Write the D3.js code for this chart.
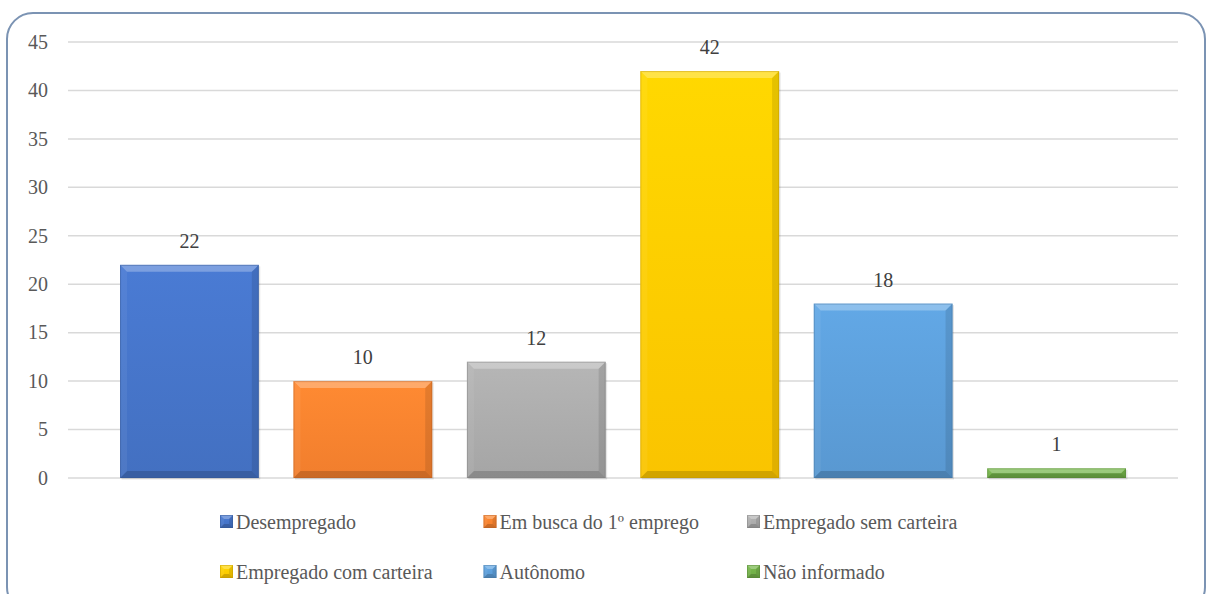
<!DOCTYPE html>
<html>
<head>
<meta charset="utf-8">
<script src="https://cdn.jsdelivr.net/npm/d3@7"></script>
<style>
  body { margin: 0; background: #fff; }
</style>
</head>
<body>
<div id="chart"></div>
<script>
// --- Data ---
var categories = ["Desempregado", "Em busca do 1º emprego", "Empregado sem carteira",
                  "Empregado com carteira", "Autônomo", "Não informado"];
var values = [22, 10, 12, 42, 18, 1];
var yTicks = [0, 5, 10, 15, 20, 25, 30, 35, 40, 45];
var colors = ["#4472C4", "#F5802E", "#A8A8A8", "#FFC800", "#5B9BD5", "#70AD47"];

var W = 1208, H = 594;
var svg = d3.select("#chart").append("svg").attr("width", W).attr("height", H);

// outer rounded border
svg.append("rect")
    .attr("x", 7).attr("y", 13)
    .attr("width", 1198).attr("height", 600)
    .attr("rx", 26).attr("ry", 26)
    .attr("fill", "#fff")
    .attr("stroke", "#7B93B3")
    .attr("stroke-width", 2);

var defs = svg.append("defs");
colors.forEach(function (c, i) {
    var g = defs.append("linearGradient").attr("id", "grad" + i)
        .attr("x1", 0).attr("y1", 0).attr("x2", 0).attr("y2", 1);
    g.append("stop").attr("offset", "0%").attr("stop-color", d3.color(c).brighter(0.22));
    g.append("stop").attr("offset", "100%").attr("stop-color", d3.color(c).darker(0.05));
});

// --- Scales ---
var x = d3.scaleBand()
    .domain(categories)
    .range([68, 1178])
    .paddingInner(0.2)
    .paddingOuter(0.3);

var y = d3.scaleLinear()
    .domain([0, 45])
    .range([478, 42]);

// gridlines
svg.append("g")
    .selectAll("line")
    .data(yTicks)
    .enter().append("line")
    .attr("x1", 68).attr("x2", 1178)
    .attr("y1", d => y(d)).attr("y2", d => y(d))
    .attr("stroke", "#D9D9D9")
    .attr("stroke-width", 1.5);

// y axis labels (plain text elements)
svg.append("g")
    .selectAll("text")
    .data(yTicks)
    .enter().append("text")
    .attr("x", 48)
    .attr("y", d => y(d))
    .attr("dy", "0.34em")
    .attr("text-anchor", "end")
    .attr("font-family", "Liberation Serif")
    .attr("font-size", 20)
    .attr("fill", "#595959")
    .text(d => d);

// bevelled bar helper
function bevelRect(g, x0, y0, w, h, i, b) {
    b = Math.min(b, h / 2, w / 2);
    g.append("rect")
        .attr("x", x0).attr("y", y0).attr("width", w).attr("height", h)
        .attr("fill", "url(#grad" + i + ")");
    var x1 = x0 + w, y1 = y0 + h;
    var faces = [
        { p: [[x0, y0], [x1, y0], [x1 - b, y0 + b], [x0 + b, y0 + b]], f: "#fff", o: 0.28 },
        { p: [[x0, y0], [x0 + b, y0 + b], [x0 + b, y1 - b], [x0, y1]], f: "#fff", o: 0.06 },
        { p: [[x1, y0], [x1, y1], [x1 - b, y1 - b], [x1 - b, y0 + b]], f: "#000", o: 0.1 },
        { p: [[x0, y1], [x0 + b, y1 - b], [x1 - b, y1 - b], [x1, y1]], f: "#000", o: 0.16 }
    ];
    faces.forEach(function (fc) {
        g.append("polygon")
            .attr("points", fc.p.map(p => p.join(",")).join(" "))
            .attr("fill", fc.f)
            .attr("fill-opacity", fc.o);
    });
    g.append("rect")
        .attr("x", x0 + 0.5).attr("y", y0 + 0.5).attr("width", w - 1).attr("height", h - 1)
        .attr("fill", "none")
        .attr("stroke", d3.color(colors[i]).darker(0.8))
        .attr("stroke-opacity", 0.45)
        .attr("stroke-width", 1);
}

// --- Bars ---
var bars = svg.append("g");
categories.forEach(function (c, i) {
    var g = bars.append("g");
    // soft shadow
    g.append("rect")
        .attr("x", x(c) + 1.5).attr("y", y(values[i]) + 1.5)
        .attr("width", x.bandwidth()).attr("height", y(0) - y(values[i]))
        .attr("fill", "#000").attr("fill-opacity", 0.1);
    bevelRect(g, x(c), y(values[i]), x.bandwidth(), y(0) - y(values[i]), i, 7);
});

// data labels
svg.append("g")
    .selectAll("text")
    .data(categories)
    .enter().append("text")
    .attr("x", d => x(d) + x.bandwidth() / 2)
    .attr("y", (d, i) => y(values[i]) - 17)
    .attr("text-anchor", "middle")
    .attr("font-family", "Times New Roman")
    .attr("font-size", 20)
    .attr("fill", "#404040")
    .text((d, i) => values[i]);

// --- Legend ---
var legend = svg.append("g");
var item = legend.selectAll("g")
    .data(categories)
    .enter().append("g")
    .attr("transform", (d, i) => `translate(${220 + (i % 3) * 263.5},${i < 3 ? 515 : 565})`);

item.each(function (d, i) {
    bevelRect(d3.select(this), 0, 0, 13, 13, i, 4);
});

item.append("text")
    .attr("x", 16)
    .attr("y", 14)
    .style("font-family", "serif")
    .style("font-size", "20px")
    .attr("fill", "#595959")
    .text(d => d);
</script>
</body>
</html>
